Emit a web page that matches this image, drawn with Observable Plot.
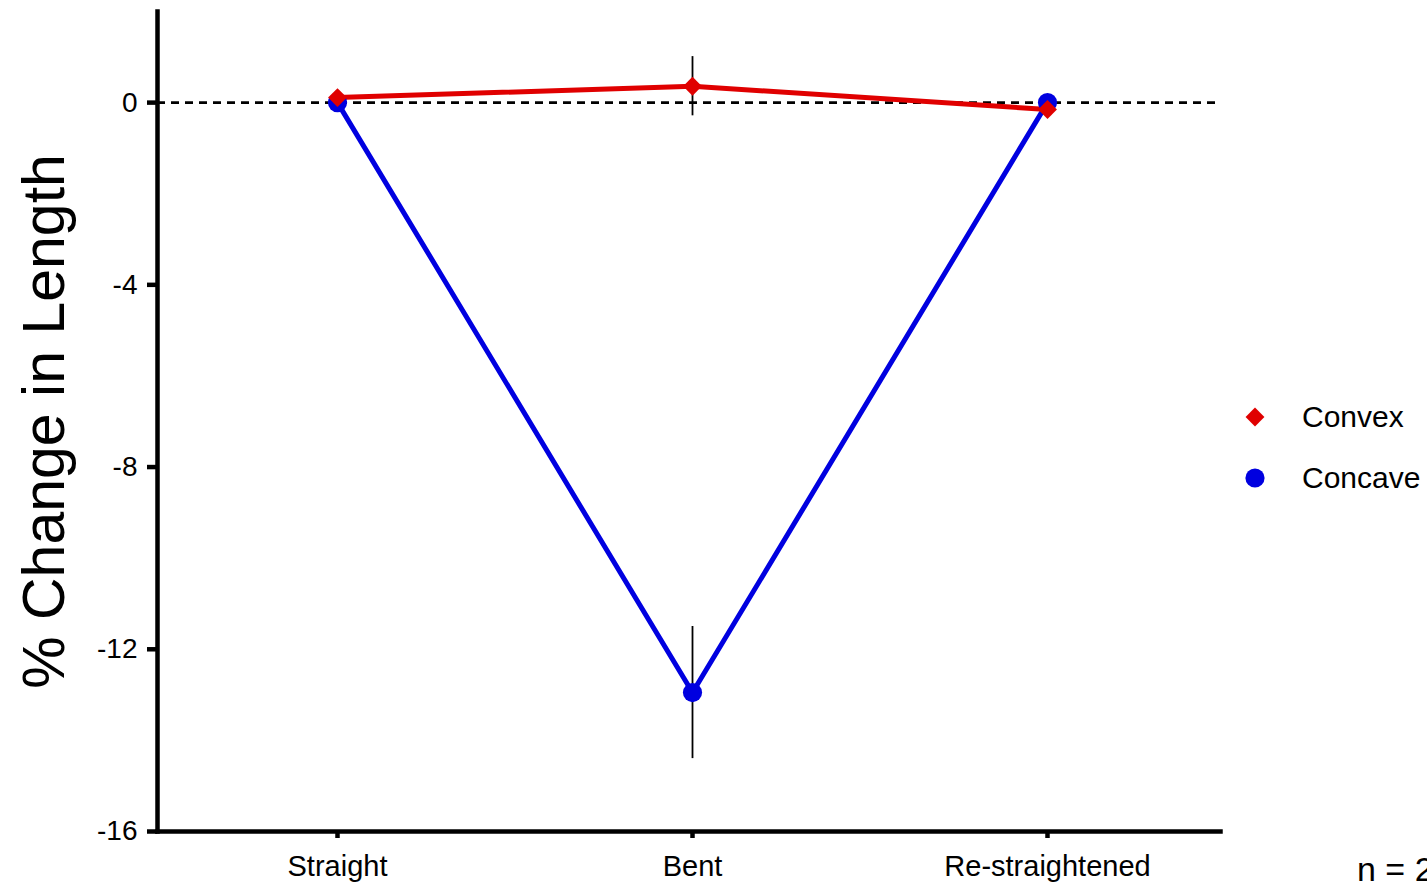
<!DOCTYPE html>
<html><head><meta charset="utf-8">
<script src="https://cdn.jsdelivr.net/npm/d3@7"></script>
<script src="https://cdn.jsdelivr.net/npm/@observablehq/plot@0.6"></script>
<style>
html,body{margin:0;padding:0;background:#fff;overflow:hidden;}
#wrap{position:relative;width:1427px;height:888px;overflow:hidden;font-family:"Liberation Sans",Arial,sans-serif;color:#000;}
#wrap svg.plot{position:absolute;left:0;top:0;}
.legend{position:absolute;left:1240px;top:386px;}
.legend .row{display:flex;align-items:center;height:61px;font-size:30px;}
.legend .row svg{width:30px;height:30px;margin-right:32px;overflow:visible;}
.note{position:absolute;left:1357px;top:852px;font-size:34px;line-height:34px;white-space:nowrap;}
</style></head><body><div id="wrap"></div>
<script>
const conditions = ["Straight", "Bent", "Re-straightened"];
const seriesNames = ["Convex", "Concave"];
const seriesColors = ["#e00000", "#0000e0"];
const seriesSymbols = ["diamond2", "circle"];
const convexMean = [0.11, 0.36, -0.15];
const convexErr = [0, 0.65, 0];
const concaveMean = [0, -12.95, 0];
const concaveErr = [0, 1.45, 0];
const yTicks = [0, -4, -8, -12, -16];
const yTitle = "% Change in Length";
const noteText = "n = 2";

const rows = [];
conditions.forEach((c, i) => rows.push({condition: c, series: "Concave", mean: concaveMean[i], err: concaveErr[i]}));
conditions.forEach((c, i) => rows.push({condition: c, series: "Convex", mean: convexMean[i], err: convexErr[i]}));
const errRows = rows.filter(d => d.err > 0);
const symbolR = {Convex: 8.5, Concave: 9.6};

const plot = Plot.plot({
  width: 1427, height: 888,
  marginLeft: 157, marginRight: 207, marginTop: 11, marginBottom: 57,
  style: {fontFamily: '"Liberation Sans", Arial, sans-serif', fontSize: "28px", color: "#000", background: "transparent"},
  x: {type: "point", domain: conditions, padding: 0, insetLeft: 180, insetRight: 173, label: null},
  y: {domain: [-16, 2], label: null},
  color: {domain: seriesNames, range: seriesColors},
  symbol: {domain: seriesNames, range: seriesSymbols},
  marks: [
    Plot.ruleY([0], {stroke: "#000", strokeWidth: 2.8, strokeDasharray: "8,6"}),
    Plot.ruleX(errRows, {x: "condition", y1: d => d.mean - d.err, y2: d => d.mean + d.err, stroke: "#000", strokeWidth: 1.8}),
    Plot.line(rows, {x: "condition", y: "mean", z: "series", stroke: "series", strokeWidth: 5}),
    Plot.dot(rows.filter(d => d.series === "Concave"), {x: "condition", y: "mean", fill: "series", symbol: "series", r: symbolR.Concave}),
    Plot.dot(rows.filter(d => d.series === "Convex"), {x: "condition", y: "mean", fill: "series", symbol: "series", r: symbolR.Convex}),
    Plot.frame({anchor: "left", stroke: "#000", strokeWidth: 4.5}),
    Plot.frame({anchor: "bottom", stroke: "#000", strokeWidth: 4.5}),
    Plot.axisY({ticks: yTicks, tickSize: 10, tickPadding: 10, strokeWidth: 4.5, fontSize: 28, tickFormat: d => String(d), label: null}),
    Plot.axisX({tickSize: 7, tickPadding: 17, strokeWidth: 4.5, fontSize: 29, label: null}),
    Plot.text([yTitle], {frameAnchor: "left", dx: -112, rotate: -90, textAnchor: "middle", fontSize: 59, fill: "#000"})
  ]
});
plot.classList.add("plot");
const wrap = document.getElementById("wrap");
wrap.appendChild(plot);

// legend
const legend = document.createElement("div");
legend.className = "legend";
seriesNames.forEach((name, i) => {
  const row = document.createElement("div");
  row.className = "row";
  const svg = d3.create("svg").attr("viewBox", "-15 -15 30 30");
  const sym = seriesSymbols[i] === "circle" ? d3.symbolCircle : d3.symbolDiamond2;
  const r = symbolR[name];
  svg.append("path").attr("d", d3.symbol(sym, Math.PI * r * r)()).attr("fill", seriesColors[i]);
  row.appendChild(svg.node());
  const t = document.createElement("span");
  t.textContent = name;
  row.appendChild(t);
  legend.appendChild(row);
});
wrap.appendChild(legend);

const note = document.createElement("div");
note.className = "note";
note.textContent = noteText;
wrap.appendChild(note);
</script>
</body></html>
